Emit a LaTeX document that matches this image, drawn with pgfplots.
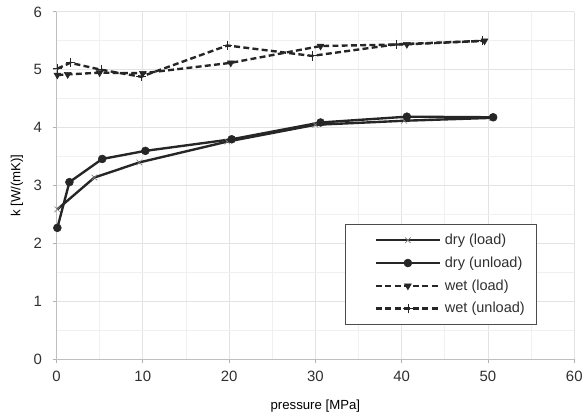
\documentclass[border=0pt]{standalone}
\usepackage{fontspec}
\setmainfont{Liberation Sans}
\usepackage{pgfplots}
\pgfplotsset{compat=1.18}
\definecolor{ln}{HTML}{262626}
\definecolor{gridc}{HTML}{E3E3E3}
\definecolor{gridm}{HTML}{F0F0F0}
\definecolor{txt}{HTML}{303030}
\begin{document}
\begin{tikzpicture}
\begin{axis}[
  scale only axis,
  width=392pt, height=263pt,
  xmin=0, xmax=60, ymin=0, ymax=6,
  xtick={0,10,...,60}, ytick={0,1,...,6},
  minor xtick={5,15,...,55}, minor ytick={0.5,1.5,...,5.5},
  grid=both,
  major grid style={gridc, line width=0.6pt},
  minor grid style={gridm, line width=0.6pt},
  axis lines=left,
  axis line style={-, draw=gray!50, line width=0.6pt},
  tick style={draw=gray!60, line width=0.6pt},
  major tick length=3pt, minor tick length=0pt,
  tick align=outside,
  ticklabel style={font=\fontsize{11.3}{13}\selectfont, text=txt},
  xticklabel style={yshift=-2pt},
  yticklabel style={xshift=-4.5pt},
  /pgf/number format/assume math mode=true,
  xlabel={pressure [MPa]}, ylabel={k [W/(mK)]},
  label style={font=\fontsize{11.5}{13}\selectfont, text=txt},
  every axis x label/.style={at={(rel axis cs:0.5,0)}, yshift=-35.5pt, anchor=center},
  every axis y label/.style={at={(rel axis cs:0,0.5)}, xshift=-30pt, rotate=90, anchor=center},
  legend style={at={(0.558,0.1)}, anchor=south west, draw=black!70, line width=0.6pt,
    font=\fontsize{11}{13}\selectfont, text=txt, inner xsep=7pt, inner ysep=5pt,
    row sep=3.8pt, cells={anchor=west}},
  legend cell align=left,
  legend image code/.code={%
    \path[draw=none, fill=none, use as bounding box] (-16pt,-3pt) rectangle (50pt,3pt);
    \draw[#1, mark=none, line width=1.9pt] (0pt,0pt) -- (48pt,0pt);
    \draw[#1, only marks] plot coordinates {(24pt,0pt)};},
]
\addplot[color=ln, line width=1.8pt, mark=x, mark size=3pt, mark options={solid, line width=0.5pt, draw=gray},
  legend image code/.code={%
    \path[draw=none, fill=none, use as bounding box] (-16pt,-3pt) rectangle (50pt,3pt);
    \draw[draw=ln, line width=1.9pt, solid] (0pt,0pt) -- (48pt,0pt);
    \draw[draw=gray, line width=0.5pt, solid] (21.9pt,-2.1pt) -- (26.1pt,2.1pt) (21.9pt,2.1pt) -- (26.1pt,-2.1pt);}] coordinates {
(0.1,2.59) (4.4,3.14) (9.6,3.40) (19.8,3.76) (30.0,4.05) (40.3,4.12) (50.5,4.17)};
\addlegendentry{dry (load)}
\addplot[color=ln, line width=1.8pt, mark=*, mark size=3pt, mark options={solid, line width=0.4pt}] coordinates {
(0.1,2.27) (1.5,3.06) (5.3,3.46) (10.3,3.60) (20.3,3.80) (30.6,4.09) (40.6,4.19) (50.6,4.18)};
\addlegendentry{dry (unload)}
\addplot[color=ln, line width=1.8pt, dash pattern=on 4.5pt off 2.5pt, mark=triangle*, mark size=3pt, mark options={solid, rotate=180, line width=0.4pt}] coordinates {
(0.1,4.91) (1.3,4.92) (5.0,4.95) (10.0,4.94) (20.2,5.12) (30.6,5.41) (40.6,5.44) (49.6,5.50)};
\addlegendentry{wet (load)}
\addplot[color=ln, line width=1.8pt, dash pattern=on 4.5pt off 2.5pt, mark=+, mark size=3.5pt, mark options={solid, line width=0.6pt},
  legend image code/.code={%
    \path[draw=none, fill=none, use as bounding box] (-16pt,-3pt) rectangle (50pt,3pt);
    \draw[draw=ln, line width=1.9pt, dash pattern=on 4.5pt off 2.5pt] (0pt,0pt) -- (48pt,0pt);
    \draw[draw=ln, line width=0.6pt, solid] (20.5pt,0pt) -- (27.5pt,0pt) (24pt,-3.5pt) -- (24pt,3.5pt);}] coordinates {
(0.1,5.02) (1.6,5.12) (5.2,5.00) (9.8,4.88) (19.8,5.42) (29.6,5.24) (39.4,5.44) (49.4,5.50)};
\addlegendentry{wet (unload)}
\end{axis}
\path (current axis.south west) ++(-42.75pt,-45.75pt);
\path (current axis.north west) ++(0pt,9pt);
\end{tikzpicture}
\end{document}
